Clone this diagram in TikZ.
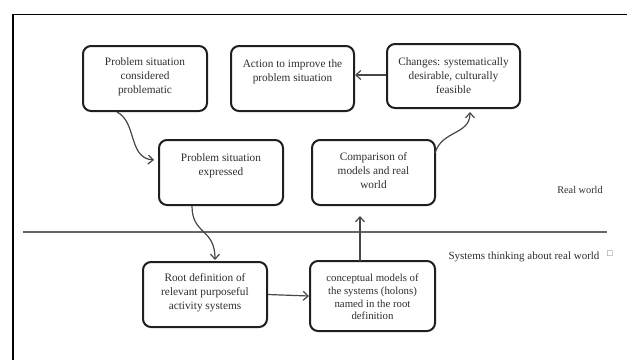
\documentclass[tikz,border=0pt]{standalone}
\usepackage{fontspec}
\setmainfont{Liberation Serif}
\newfontfamily\symfont{DejaVu Sans}
\usetikzlibrary{arrows.meta}
\begin{document}
\begin{tikzpicture}[x=1pt,y=-1pt,
  box/.style={draw=black!88,line width=2pt,rounded corners=8pt,inner sep=0pt},
  txt/.style={align=center,text=black!82,font=\fontsize{11.3}{14}\selectfont,inner sep=0pt},
  conn/.style={draw=black!72,line width=1.2pt,-{Straight Barb[length=5pt,width=9pt]}},
  frame/.style={draw=black,line width=1.6pt},
  sep/.style={draw=black!60,line width=2pt}]
\useasboundingbox (0,0) rectangle (627,360);
% frame
\coordinate (f0) at (13,14.5);
\coordinate (f1) at (627,14.5);
\coordinate (f2) at (13,360);
\draw[frame] (f1) -- (f0) -- (f2);
% separator
\coordinate (s0) at (23,231.5);
\coordinate (s1) at (607,231.5);
\draw[sep] (s0) -- (s1);
% boxes
\node[box,minimum width=124pt,minimum height=65pt] (b1) at (145,78.5) {};
\node[txt] (t1) at (145,77) {Problem situation\\considered\\problematic};
\node[box,minimum width=123pt,minimum height=65pt] (b2) at (292.5,78.5) {};
\node[txt] (t2) at (292.5,71.5) {Action to improve the\\problem situation};
\node[box,minimum width=133pt,minimum height=64pt] (b3) at (453.5,76) {};
\node[txt] (t3) at (453.5,76) {Changes: systematically\\desirable, culturally\\feasible};
\node[box,minimum width=124pt,minimum height=65pt] (b4) at (221,172.5) {};
\node[txt] (t4) at (221,166) {Problem situation\\expressed};
\node[box,minimum width=123pt,minimum height=65pt] (b5) at (373.5,172.5) {};
\node[txt] (t5) at (373.5,171) {Comparison of\\models and real\\world};
\node[box,minimum width=124pt,minimum height=65pt] (b6) at (205,294.5) {};
\node[txt] (t6) at (205,292.5) {Root definition of\\relevant purposeful\\activity systems};
\node[box,minimum width=125pt,minimum height=70pt] (b7) at (372.5,296) {};
\node[txt,font=\fontsize{10.8}{12.7}\selectfont] (t7) at (372.5,297) {conceptual models of\\the systems (holons)\\named in the root\\definition};
% side labels
\node[txt,font=\fontsize{10.3}{12}\selectfont] (rw) at (580,190) {Real world};
\node[txt,font=\fontsize{11}{13}\selectfont] (st) at (524,257) {Systems thinking about real world};
\node[txt,font=\symfont\fontsize{7}{8}\selectfont,text=black!55] (sq) at (610,254) {□};
% connectors
\coordinate (a1s) at (117,112);
\coordinate (a1e) at (154,160);
\draw[conn] (a1s) .. controls (137,122) and (128,158) .. (a1e);
\coordinate (a2s) at (192,206);
\coordinate (a2e) at (215,260);
\draw[conn] (a2s) .. controls (192,235) and (215,228) .. (a2e);
\draw[conn] (b6.east) -- (b7.west);
\coordinate (a4s) at (360,261);
\coordinate (a4e) at (360,216);
\draw[conn] (a4s) -- (a4e);
\coordinate (a5s) at (435,153);
\coordinate (a5e) at (470,112);
\draw[conn] (a5s) .. controls (442,130) and (470,135) .. (a5e);
\coordinate (a6e) at (355,75);
\draw[conn] (b3.west |- a6e) -- (a6e);
\end{tikzpicture}
\end{document}
